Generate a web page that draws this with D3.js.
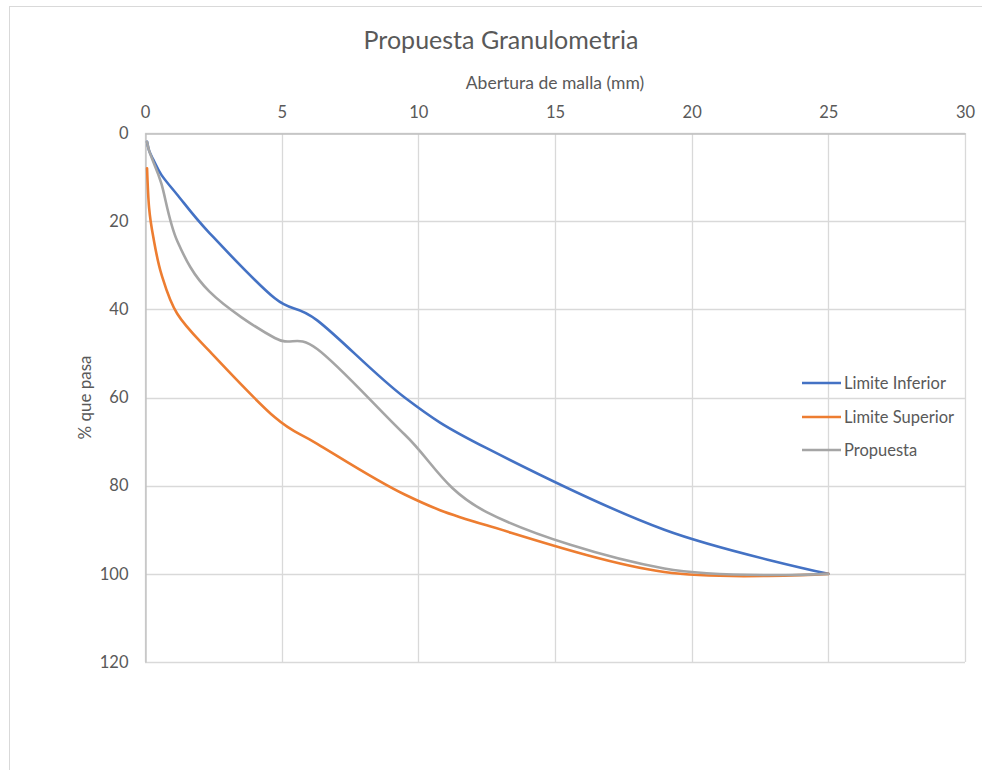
<!DOCTYPE html>
<html>
<head>
<meta charset="utf-8">
<script src="https://cdn.jsdelivr.net/npm/d3@7"></script>
<style>
  html, body { margin: 0; padding: 0; background: #fff; }
  svg { display: block; font-family: Lato, "Liberation Sans", sans-serif; }
</style>
</head>
<body>
<svg id="chart" width="982" height="770"></svg>
<script>
// ---- data ----
const sieves = [0.075, 0.15, 0.3, 0.6, 1.18, 2.36, 4.75, 6.3, 9.5, 12.5, 19, 25];
const limiteInferior = [2, 4, 6, 9.5, 14, 22.7, 37.5, 42.5, 60, 71.5, 90, 100];
const limiteSuperior = [8, 17, 23.5, 32, 41, 49.5, 64.5, 70.5, 82, 89, 99.6, 100];
const propuesta      = [2, 4, 6.5, 11.5, 24.5, 36, 46.5, 49, 68.4, 86, 98.8, 100];
const seriesNames = ["Limite Inferior", "Limite Superior", "Propuesta"];
const seriesColors = ["#4472C4", "#ED7D31", "#A5A5A5"];
const xTicks = [0, 5, 10, 15, 20, 25, 30];
const yTicks = [0, 20, 40, 60, 80, 100, 120];

const svg = d3.select("#chart");
const plot = { left: 145, right: 965, top: 133, bottom: 662 };
const FONT = "Lato, 'Liberation Sans', sans-serif";
const TXT = "#595959";

// chart frame
svg.append("rect").attr("x", 9.5).attr("y", 6.5).attr("width", 1000).attr("height", 800)
  .attr("fill", "#fff").attr("stroke", "#d9d9d9").attr("stroke-width", 1);

const x = d3.scaleLinear().domain([0, 30]).range([plot.left, plot.right]);
const y = d3.scaleLinear().domain([0, 120]).range([plot.top, plot.bottom]);

// gridlines
const grid = svg.append("g");
grid.selectAll("line.v").data(xTicks).join("line")
  .attr("x1", d => Math.round(x(d)) + 0.5).attr("x2", d => Math.round(x(d)) + 0.5)
  .attr("y1", plot.top).attr("y2", plot.bottom)
  .attr("stroke", "#d9d9d9").attr("stroke-width", 1.3);
grid.selectAll("line.h").data(yTicks).join("line")
  .attr("y1", d => Math.round(y(d)) + 0.5).attr("y2", d => Math.round(y(d)) + 0.5)
  .attr("x1", plot.left).attr("x2", plot.right)
  .attr("stroke", "#d9d9d9").attr("stroke-width", 1.3);

// axes
const xAxis = d3.axisTop(x).tickValues(xTicks).tickSize(0).tickPadding(16);
const gx = svg.append("g").attr("transform", `translate(0,${Math.round(y(0)) + 0.5})`).call(xAxis);
gx.select(".domain").attr("stroke", "#bfbfbf").attr("stroke-width", 1.3);
gx.selectAll("text").attr("fill", TXT).style("font-size", "16.5px").attr("font-family", FONT);

const yAxis = d3.axisLeft(y).tickValues(yTicks).tickSize(0).tickPadding(17);
const gy = svg.append("g").attr("transform", `translate(${Math.round(x(0)) + 0.5},0)`).call(yAxis);
gy.select(".domain").attr("stroke", "#bfbfbf").attr("stroke-width", 1.3);
gy.selectAll("text").attr("fill", TXT).style("font-size", "16.5px").attr("font-family", FONT);

// titles
svg.append("text").attr("x", 501).attr("y", 49).attr("text-anchor", "middle")
  .attr("fill", TXT).style("font-size", "25px").text("Propuesta Granulometria");
svg.append("text").attr("x", 555).attr("y", 89).attr("text-anchor", "middle")
  .attr("fill", TXT).style("font-size", "17.5px").text("Abertura de malla (mm)");
svg.append("text").attr("transform", `translate(91,${(plot.top + plot.bottom) / 2}) rotate(-90)`)
  .attr("text-anchor", "middle").attr("fill", TXT).style("font-size", "17px").text("% que pasa");

// lines
const allSeries = [limiteInferior, limiteSuperior, propuesta];
const line = d3.line().x(d => x(d[0])).y(d => y(d[1])).curve(d3.curveCardinal.tension(0));
const gl = svg.append("g");
allSeries.forEach((vals, i) => {
  const pts = sieves.map((s, k) => [s, vals[k]]);
  gl.append("path").datum(pts).attr("d", line)
    .attr("fill", "none").attr("stroke", seriesColors[i]).attr("stroke-width", 2.6)
    .attr("stroke-linejoin", "round").attr("stroke-linecap", "round");
});

// legend
const legY = [383, 417, 450];
const lg = svg.append("g");
seriesNames.forEach((name, i) => {
  lg.append("line").attr("x1", 802).attr("x2", 841).attr("y1", legY[i]).attr("y2", legY[i])
    .attr("stroke", seriesColors[i]).attr("stroke-width", 2.6);
  lg.append("text").attr("x", 844).attr("y", legY[i] + 6).attr("fill", TXT)
    .style("font-size", "16.5px").text(name);
});
</script>
</body>
</html>
